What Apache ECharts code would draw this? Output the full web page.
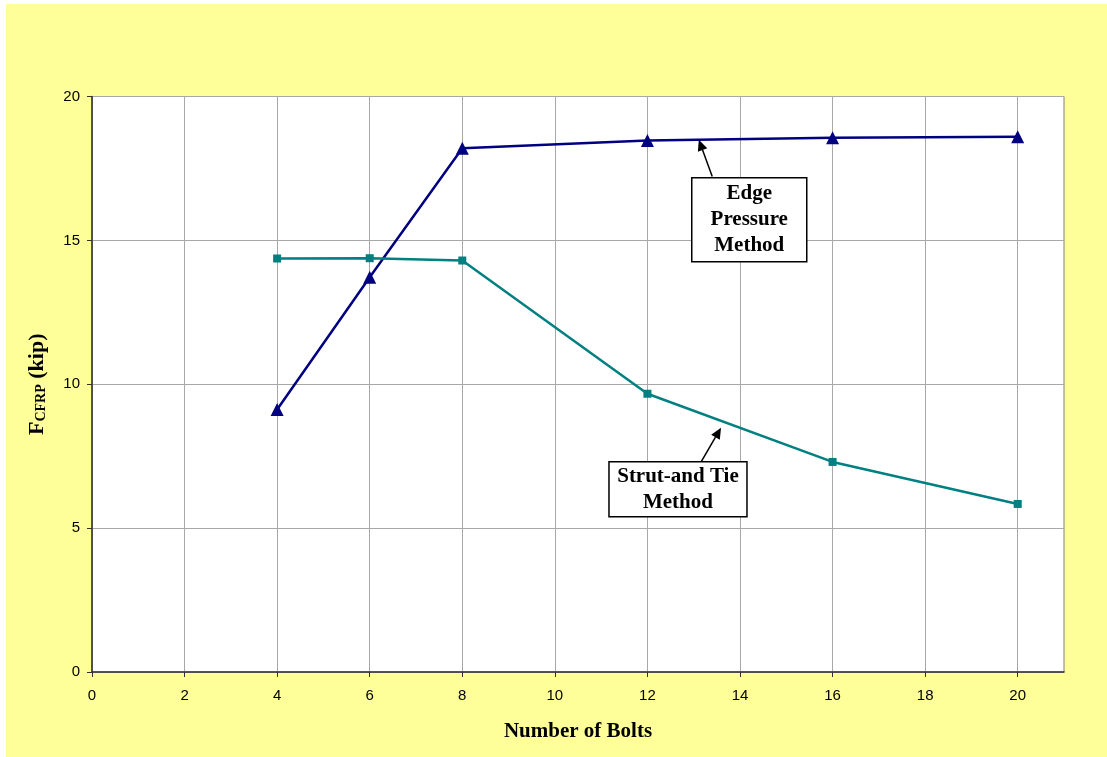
<!DOCTYPE html>
<html>
<head>
<meta charset="utf-8">
<script src="https://cdn.jsdelivr.net/npm/echarts@6/dist/echarts.min.js"></script>
<style>
html,body{margin:0;padding:0;background:#ffffff;width:1107px;height:757px;overflow:hidden;}
#chart{position:absolute;left:6px;top:4px;width:1101px;height:753px;background:#FFFF99;}
</style>
</head>
<body>
<div id="chart"></div>
<script>
const bolts = [4, 6, 8, 12, 16, 20];
const edgePressure = [9.12, 13.72, 18.2, 18.47, 18.57, 18.6];
const strutAndTie = [14.37, 14.38, 14.3, 9.67, 7.3, 5.84];
const xTicks = [0, 2, 4, 6, 8, 10, 12, 14, 16, 18, 20];
const yTicks = [0, 5, 10, 15, 20];
const edgeLabel = 'Edge\nPressure\nMethod';
const strutLabel = 'Strut-and Tie\nMethod';

const chart = echarts.init(document.getElementById('chart'));
const serif = '"Liberation Serif","Times New Roman",serif';
const sans = '"Liberation Sans",Arial,sans-serif';

chart.setOption({
  animation: false,
  grid: {left: 86, top: 92.5, right: 43, bottom: 85, show: true, backgroundColor: '#ffffff', borderColor: '#808080', borderWidth: 1},
  xAxis: {
    type: 'value', min: 0, max: 21, interval: 2,
    name: 'Number of Bolts', nameLocation: 'middle', nameGap: 49,
    nameTextStyle: {fontFamily: serif, fontWeight: 'bold', fontSize: 21, color: '#000'},
    axisLine: {onZero: false, lineStyle: {color: '#303030', width: 1.5}},
    axisTick: {show: true, length: 5, inside: false, customValues: xTicks, lineStyle: {color: '#303030'}},
    axisLabel: {customValues: xTicks, fontFamily: sans, fontSize: 15, color: '#000', margin: 16},
    splitLine: {show: true, lineStyle: {color: '#a8a8a8', width: 1}}
  },
  yAxis: {
    type: 'value', min: 0, max: 20, interval: 5,
    name: '{f|F}{s|CFRP}{f| (kip)}', nameLocation: 'middle', nameGap: 44, nameRotate: 90,
    nameTextStyle: {rich: {
      f: {fontFamily: serif, fontWeight: 'bold', fontSize: 22, color: '#000'},
      s: {fontFamily: serif, fontWeight: 'bold', fontSize: 14, color: '#000', verticalAlign: 'bottom', padding: [8, 0, 0, 0]}
    }},
    axisLine: {show: true, lineStyle: {color: '#303030', width: 1.5}},
    axisTick: {show: true, length: 5, inside: false, lineStyle: {color: '#303030'}},
    axisLabel: {fontFamily: sans, fontSize: 15, color: '#000', margin: 12, customValues: yTicks},
    splitLine: {show: true, lineStyle: {color: '#a8a8a8', width: 1}}
  },
  series: [
    {
      name: 'Edge Pressure Method', type: 'line',
      data: bolts.map((b, i) => [b, edgePressure[i]]),
      symbol: 'triangle', symbolSize: 13,
      lineStyle: {color: '#000080', width: 2.5},
      itemStyle: {color: '#000080'}
    },
    {
      name: 'Strut-and Tie Method', type: 'line',
      data: bolts.map((b, i) => [b, strutAndTie[i]]),
      symbol: 'rect', symbolSize: 8,
      lineStyle: {color: '#008080', width: 2.5},
      itemStyle: {color: '#008080'}
    }
  ]
});

function px(x, y) { return chart.convertToPixel({gridIndex: 0}, [x, y]); }

// annotation anchors in data coordinates
const eBoxC = px(14.2, 15.72), eTail = px(13.4, 17.22), eTip = px(13.11, 18.5);
const sBoxC = px(12.66, 6.35), sTail = px(13.16, 7.3), sTip = px(13.59, 8.49);

function arrow(tail, tip) {
  const ang = Math.atan2(tip[1] - tail[1], tip[0] - tail[0]);
  const L = 11, W = 5;
  const bx = tip[0] - L * Math.cos(ang), by = tip[1] - L * Math.sin(ang);
  const nx = -Math.sin(ang) * W, ny = Math.cos(ang) * W;
  return [
    {type: 'line', shape: {x1: tail[0], y1: tail[1], x2: bx, y2: by}, style: {stroke: '#000', lineWidth: 1.5}, z: 100},
    {type: 'polygon', shape: {points: [[tip[0], tip[1]], [bx + nx, by + ny], [bx - nx, by - ny]]}, style: {fill: '#000'}, z: 100}
  ];
}

function box(c, w, h, text) {
  return [
    {type: 'rect', shape: {x: c[0] - w / 2, y: c[1] - h / 2, width: w, height: h}, style: {fill: '#fff', stroke: '#000', lineWidth: 1.5}, z: 100},
    {type: 'text', x: c[0], y: c[1], style: {text: text, fill: '#000', font: 'bold 21px ' + serif, align: 'center', verticalAlign: 'middle', lineHeight: 26}, z: 101}
  ];
}

chart.setOption({
  graphic: [].concat(
    arrow(eTail, eTip), box(eBoxC, 115, 84, edgeLabel),
    arrow(sTail, sTip), box(sBoxC, 138, 55, strutLabel)
  )
});
</script>
</body>
</html>
